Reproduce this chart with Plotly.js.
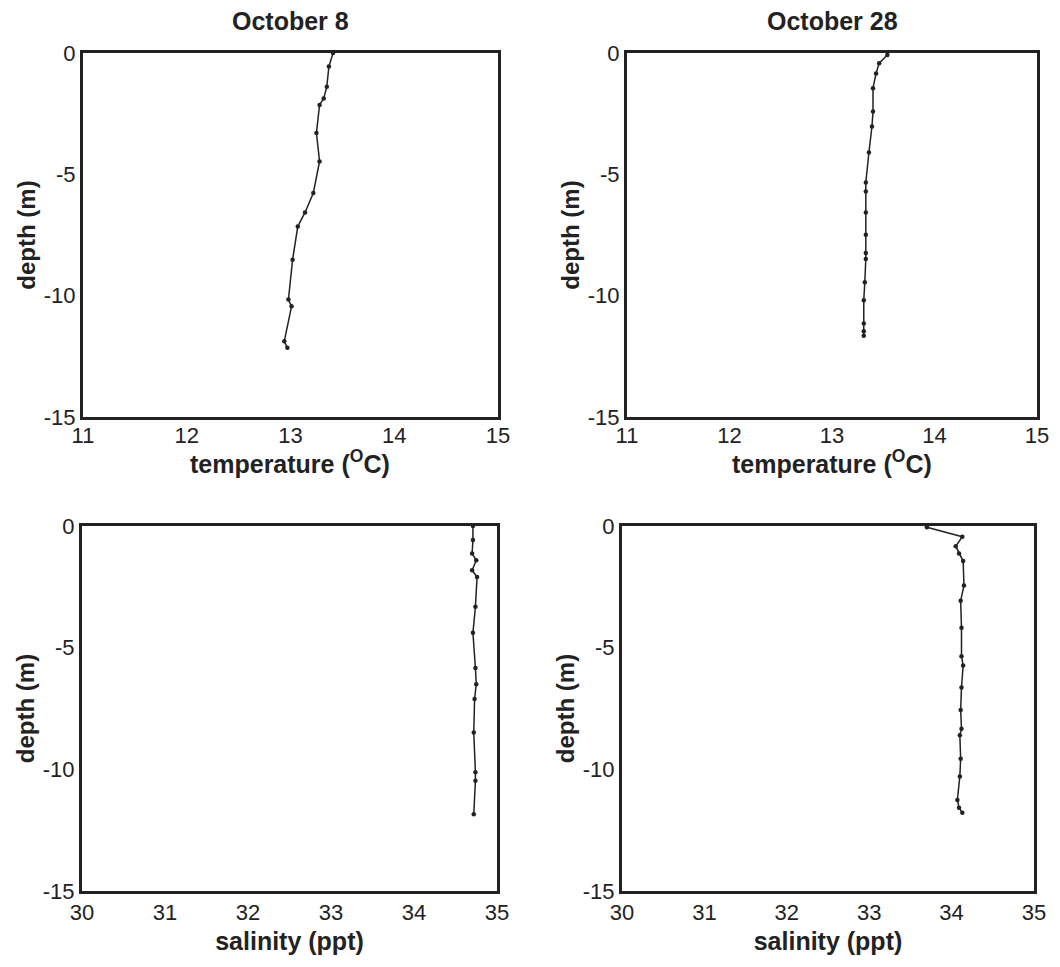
<!DOCTYPE html>
<html>
<head>
<meta charset="utf-8">
<script src="https://cdn.plot.ly/plotly-3.0.1.min.js"></script>
<style>html,body{margin:0;padding:0;background:#fff;}#chart{width:1060px;height:967px;}</style>
</head>
<body>
<div id="chart"></div>
<script>
// October 8 temperature profile
var temp1  = [13.41, 13.37, 13.35, 13.32, 13.28, 13.25, 13.28, 13.22, 13.14, 13.07, 13.02, 12.98, 13.01, 12.94, 12.97];
var depth1 = [0, -0.56, -1.39, -1.87, -2.14, -3.30, -4.47, -5.77, -6.57, -7.15, -8.52, -10.16, -10.44, -11.88, -12.15];
// October 28 temperature profile
var temp2  = [13.54, 13.46, 13.43, 13.40, 13.40, 13.39, 13.36, 13.33, 13.33, 13.33, 13.33, 13.33, 13.33, 13.32, 13.31, 13.31, 13.31, 13.31];
var depth2 = [-0.08, -0.42, -0.84, -1.45, -2.41, -3.03, -4.10, -5.34, -5.71, -6.57, -7.49, -8.24, -8.49, -9.45, -10.19, -11.15, -11.47, -11.65];
// October 8 salinity profile
var sal1    = [34.71, 34.71, 34.70, 34.75, 34.70, 34.76, 34.74, 34.71, 34.74, 34.75, 34.73, 34.72, 34.74, 34.74, 34.72];
var sdepth1 = [0, -0.58, -1.13, -1.41, -1.82, -2.10, -3.32, -4.39, -5.84, -6.50, -7.11, -8.49, -10.12, -10.47, -11.85];
// October 28 salinity profile
var sal2    = [33.70, 34.13, 34.05, 34.09, 34.14, 34.15, 34.11, 34.12, 34.12, 34.14, 34.12, 34.11, 34.12, 34.10, 34.11, 34.10, 34.07, 34.09, 34.13];
var sdepth2 = [-0.05, -0.44, -0.83, -1.13, -1.44, -2.45, -3.07, -4.18, -5.35, -5.73, -6.64, -7.56, -8.33, -8.60, -9.57, -10.29, -11.26, -11.58, -11.78];

var tempTicks = [11, 12, 13, 14, 15];
var salTicks  = [30, 31, 32, 33, 34, 35];
var depthTicks = [0, -5, -10, -15];
var panelTitles = ['October 8', 'October 28'];
var tempTitle = 'temperature (<sup>O</sup>C)';
var salTitle = 'salinity (ppt)';
var depthTitle = 'depth (m)';

var ink = '#222';
var FONT = 'Liberation Sans, Arial, Helvetica, sans-serif';

function trace(x, y, xa, ya) {
  return {x: x, y: y, xaxis: xa, yaxis: ya, type: 'scatter', mode: 'lines+markers',
    line: {color: ink, width: 1.5}, marker: {color: ink, size: 4.5}, hoverinfo: 'skip', showlegend: false};
}

var data = [
  trace(temp1, depth1, 'x', 'y'),
  trace(temp2, depth2, 'x2', 'y2'),
  trace(sal1, sdepth1, 'x3', 'y3'),
  trace(sal2, sdepth2, 'x4', 'y4')
];

function xax(dom, range, ticks, title, anchor, standoff) {
  var a = {domain: dom, range: range, tickvals: ticks, ticktext: ticks.map(String), anchor: anchor,
    showline: true, mirror: true, linewidth: 3, linecolor: ink, showgrid: false, zeroline: false,
    ticks: '', tickfont: {size: 22, color: ink, family: FONT}, fixedrange: true};
  if (title) a.title = {text: '<b>' + title + '</b>', font: {size: 25, color: ink, family: FONT}, standoff: standoff};
  else a.ticklabelstandoff = -3;
  return a;
}
function yax(dom, anchor) {
  return {domain: dom, range: [-15, 0], tickvals: depthTicks, ticktext: depthTicks.map(String), anchor: anchor,
    showline: true, mirror: true, linewidth: 3, linecolor: ink, showgrid: false, zeroline: false,
    ticks: '', tickfont: {size: 22, color: ink, family: FONT}, fixedrange: true,
    title: {text: '<b>' + depthTitle + '</b>', font: {size: 24, color: ink, family: FONT}, standoff: 2}};
}

var W = 1060, H = 967;
function dx(a, b) { return [a / W, b / W]; }
function dy(top, bottom) { return [1 - bottom / H, 1 - top / H]; }

function note(text, xpx, ypx, size) {
  return {text: '<b>' + text + '</b>', xref: 'paper', yref: 'paper', x: xpx / W, y: 1 - ypx / H,
    xanchor: 'center', yanchor: 'middle', showarrow: false, font: {size: size, color: ink, family: FONT}};
}

var layout = {
  width: W, height: H,
  margin: {l: 0, r: 0, t: 0, b: 0},
  paper_bgcolor: '#fff', plot_bgcolor: '#fff',
  font: {family: FONT, color: ink},
  xaxis:  xax(dx(83, 498),  [11, 15], tempTicks, null, 'y', 0),
  yaxis:  yax(dy(53, 417), 'x'),
  xaxis2: xax(dx(627, 1037), [11, 15], tempTicks, null, 'y2', 0),
  yaxis2: yax(dy(53, 417), 'x2'),
  xaxis3: xax(dx(82, 497),  [30, 35], salTicks, salTitle, 'y3', 9),
  yaxis3: yax(dy(526, 891), 'x3'),
  xaxis4: xax(dx(622, 1034), [30, 35], salTicks, salTitle, 'y4', 9),
  yaxis4: yax(dy(526, 891), 'x4'),
  annotations: [
    note(panelTitles[0], 290, 21, 25),
    note(panelTitles[1], 832, 21, 25),
    note(tempTitle, 290, 462, 25),
    note(tempTitle, 832, 462, 25)
  ]
};

Plotly.newPlot('chart', data, layout, {staticPlot: true, displayModeBar: false});
</script>
</body>
</html>
